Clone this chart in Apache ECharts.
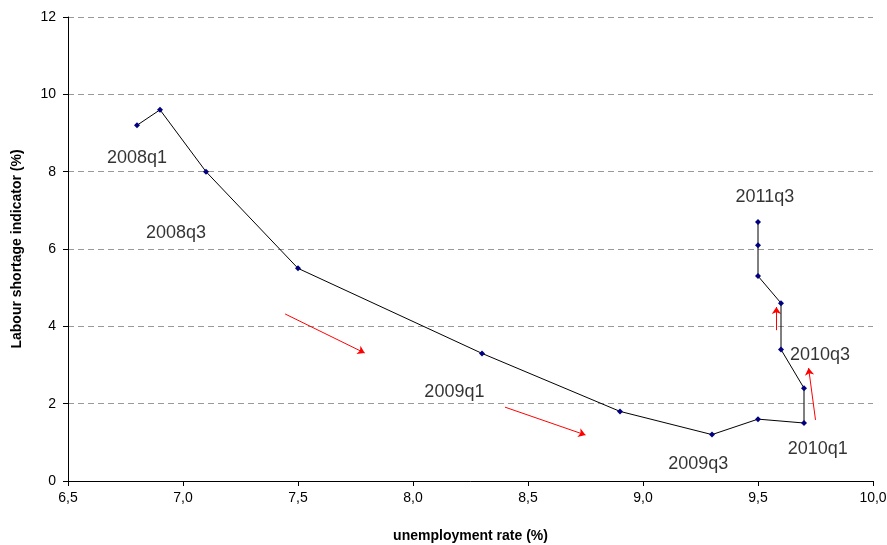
<!DOCTYPE html>
<html><head><meta charset="utf-8">
<script src="https://cdn.jsdelivr.net/npm/echarts@6/dist/echarts.min.js"></script>
<style>html,body{margin:0;background:#fff}#c{width:887px;height:545px}</style>
</head><body><div id="c"></div>
<script>
const unemployment = [6.8, 6.9, 7.1, 7.5, 8.3, 8.9, 9.3, 9.5, 9.7, 9.7, 9.6, 9.6, 9.5, 9.5, 9.5];
const shortage = [9.2, 9.6, 8.0, 5.5, 3.3, 1.8, 1.2, 1.6, 1.5, 2.4, 3.4, 4.6, 5.3, 6.1, 6.7];
const labelNames = ['2008q1', '2008q3', '2009q1', '2009q3', '2010q1', '2010q3', '2011q3'];
const labelX = [6.80, 6.97, 8.18, 9.24, 9.76, 9.77, 9.53];
const labelY = [8.35, 6.41, 2.30, 0.44, 0.83, 3.26, 7.34];
const arrows = [
  [[7.444, 4.32], [7.79, 3.31]],
  [[8.40, 1.91], [8.75, 1.19]],
  [[9.75, 1.58], [9.72, 2.92]],
  [[9.58, 3.90], [9.58, 4.50]]
];

const chart = echarts.init(document.getElementById('c'));
const font = 'Liberation Sans, Arial, sans-serif';
chart.setOption({
  animation: false,
  grid: { left: 68, right: 14, top: 17, bottom: 64, outerBoundsMode: 'none' },
  xAxis: {
    type: 'value', min: 6.5, max: 10, interval: 0.5,
    name: 'unemployment rate (%)', nameLocation: 'middle', nameGap: 48,
    nameTextStyle: { fontFamily: font, fontWeight: 'bold', fontSize: 14, color: '#000' },
    axisLine: { lineStyle: { color: '#000' } },
    axisTick: { lineStyle: { color: '#000' } },
    axisLabel: { fontFamily: font, fontSize: 14, color: '#000', margin: 10,
      formatter: v => v.toFixed(1).replace('.', ',') },
    splitLine: { show: false }
  },
  yAxis: {
    type: 'value', min: 0, max: 12, interval: 2,
    name: 'Labour shortage indicator (%)', nameLocation: 'middle', nameGap: 44,
    nameTextStyle: { fontFamily: font, fontWeight: 'bold', fontSize: 14, color: '#000' },
    axisLine: { show: true, lineStyle: { color: '#000' } },
    axisTick: { show: true, lineStyle: { color: '#000' } },
    axisLabel: { fontFamily: font, fontSize: 14, color: '#000', margin: 12 },
    splitLine: { lineStyle: { color: '#999', type: [6, 4] } }
  },
  series: [
    {
      type: 'line',
      data: unemployment.map((x, i) => [x, shortage[i]]),
      symbol: 'diamond', symbolSize: 6,
      lineStyle: { color: '#000', width: 1 },
      itemStyle: { color: '#000080' }
    },
    {
      type: 'scatter', symbolSize: 0,
      data: labelNames.map((n, i) => ({ value: [labelX[i], labelY[i]], name: n })),
      label: { show: true, position: 'inside', formatter: p => p.name,
        fontFamily: font, fontSize: 18, color: '#000' }
    },
    {
      type: 'lines', coordinateSystem: 'cartesian2d',
      symbol: ['none', 'arrow'], symbolSize: 7,
      lineStyle: { color: '#ff0000', width: 1, opacity: 1 },
      data: arrows.map(a => ({ coords: a }))
    }
  ]
});
</script></body></html>
